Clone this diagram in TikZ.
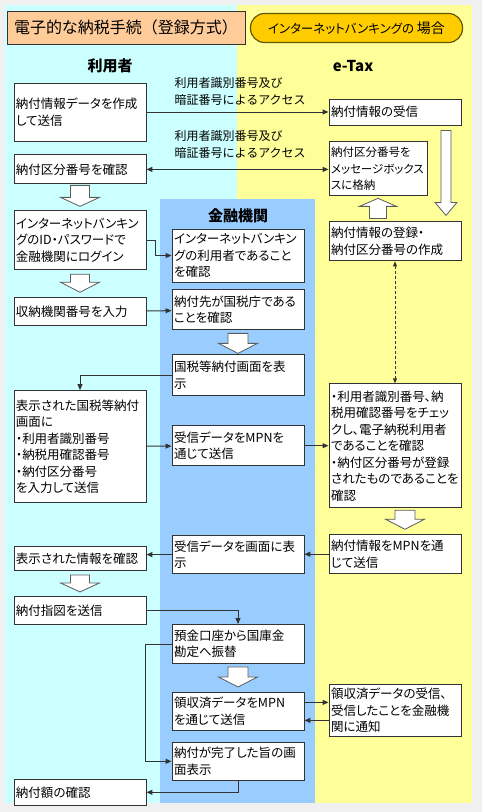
\documentclass[tikz,border=0pt]{standalone}
\usepackage{fontspec}
\setmainfont[RawFeature=+palt]{Noto Sans CJK JP}
\newfontfamily\fulljp{Noto Sans CJK JP}
\usetikzlibrary{arrows.meta, positioning, calc}
\definecolor{framegray}{HTML}{F0F0F0}
\definecolor{usercyan}{HTML}{CCFFFF}
\definecolor{banksky}{HTML}{99CCFF}
\definecolor{taxyellow}{HTML}{FFFF99}
\definecolor{titlepeach}{HTML}{FFCC99}
\definecolor{casegold}{HTML}{FFCC00}
\definecolor{caseedge}{HTML}{665500}
\definecolor{ink}{HTML}{333333}
\tikzstyle{box} = [rectangle, draw=ink, fill=white, line width=0.9pt,
  text width=128pt, align=left, inner xsep=2pt, inner ysep=2pt,
  font=\fontsize{12.5pt}{16.5pt}\selectfont]
\tikzstyle{titlebox} = [rectangle, draw=ink, fill=titlepeach, line width=0.9pt,
  minimum width=238pt, minimum height=33pt, font=\fulljp\fontsize{16pt}{18pt}\selectfont]
\tikzstyle{casebox} = [rectangle, draw=caseedge, fill=casegold, line width=1.2pt, rounded corners=14pt,
  minimum width=212pt, minimum height=29pt]
\tikzstyle{head} = [inner sep=0pt, font=\bfseries\fontsize{15pt}{18pt}\selectfont]
\tikzstyle{lbl} = [align=left, inner sep=0pt, font=\fulljp\fontsize{12pt}{17pt}\selectfont]
\tikzstyle{line} = [draw=ink, line width=1pt, -{Triangle[length=6pt,width=5pt]}]
\tikzstyle{both} = [draw=ink, line width=1pt, {Triangle[length=6pt,width=5pt]}-{Triangle[length=6pt,width=5pt]}]
\tikzstyle{dline} = [draw=ink, line width=0.8pt, dash pattern=on 3pt off 2pt,
  {Triangle[length=5pt,width=4pt]}-{Triangle[length=5pt,width=4pt]}]
\tikzstyle{hollow} = [draw=ink!80, fill=white, line width=0.8pt]
% hollow block arrow: from, to, half shaft, half head, head length
\newcommand{\fatarrow}[5]{%
  \path [hollow] let \p1=#1, \p2=#2, \n1={sign(\y2-\y1)} in
    (\x2-#3,\y1) -- (\x2-#3,\y2-\n1*#5) -- (\x2-#4,\y2-\n1*#5) -- (\x2,\y2)
    -- (\x2+#4,\y2-\n1*#5) -- (\x2+#3,\y2-\n1*#5) -- (\x2+#3,\y1) -- cycle;}

\begin{document}
\begin{tikzpicture}[x=1pt, y=-1pt]
    \useasboundingbox (0,0) rectangle (482,812);
    \fill [framegray] (0,0) rectangle (482,812);
    \fill [usercyan] (5,5) rectangle (237,803);
    \fill [taxyellow] (237,5) rectangle (472,803);
    \fill [banksky] (160,199) rectangle (315,803);

    \node [titlebox] (title) at (126,27.5) {電子的な納税手続（登録方式）};
    \node [casebox] (case) at (356.5,28) {\fontsize{12.5pt}{14pt}\selectfont インターネットバンキングの\ \fulljp\fontsize{14pt}{16pt}\selectfont 場合};

    \node [head] (userHead) at (110,66) {利用者};
    \node [head] (taxHead) at (353,66) {e-Tax};
    \node [head] (bankHead) at (238,216) {金融機関};

    % user column
    \node [box, minimum height=58pt] (makeData) at (80,112) {納付情報データを作成\\して送信};
    \node [box, minimum height=29pt, below=13pt of makeData] (checkNo) {納付区分番号を確認};
    \node [box, minimum height=59pt, below=26pt of checkNo] (login) {インターネットバンキン\\グのID・パスワードで\\金融機関にログイン};
    \node [box, minimum height=28pt, below=27pt of login] (enterNo) {収納機関番号を入力};
    \node [box, minimum height=112pt, below=64pt of enterNo] (enterIds) {表示された国税等納付\\画面に\\・利用者識別番号\\・納税用確認番号\\・納付区分番号\\を入力して送信};
    \node [box, minimum height=24pt, below=43pt of enterIds] (viewInfo) {表示された情報を確認};
    \node [box, minimum height=28pt, below=25pt of viewInfo] (order) {納付指図を送信};
    \node [box, minimum height=26pt, below=154pt of order] (amount) {納付額の確認};

    % bank column
    \node [box, minimum height=53pt] (isUser) at (238,255.5) {インターネットバンキン\\グの利用者であること\\を確認};
    \node [box, minimum height=40pt, below=7pt of isUser] (isNta) {納付先が国税庁である\\ことを確認};
    \node [box, minimum height=41pt, below=24pt of isNta] (showForm) {国税等納付画面を表\\示};
    \node [box, minimum height=40pt, below=29pt of showForm] (sendMpn) {受信データをMPNを\\通じて送信};
    \node [box, minimum height=38pt, below=69pt of sendMpn] (showData) {受信データを画面に表\\示};
    \node [box, minimum height=39pt, below=50pt of showData] (transfer) {預金口座から国庫金\\勘定へ振替};
    \node [box, minimum height=38pt, below=28pt of transfer] (sendReceipt) {領収済データをMPN\\を通じて送信};
    \node [box, minimum height=38pt, below=11pt of sendReceipt] (done) {納付が完了した旨の画\\面表示};

    % e-Tax column
    \node [box, minimum height=26pt] (receive) at (395,112) {納付情報の受信};
    \node [box, text width=94pt, minimum height=54pt, font=\fontsize{11.5pt}{16.5pt}\selectfont,
      below right=16pt and 0pt of receive.south west] (store) {納付区分番号を\\メッセージボックス\\スに格納};
    \node [box, minimum height=39pt, below=96pt of receive] (register) {納付情報の登録・\\納付区分番号の作成};
    \node [box, minimum height=124pt, below=122pt of register] (verify) {・利用者識別番号、納\\税用確認番号をチェッ\\クし、電子納税利用者\\であることを確認\\・納付区分番号が登録\\されたものであることを\\確認};
    \node [box, minimum height=39pt, below=26pt of verify] (sendInfo) {納付情報をMPNを通\\じて送信};
    \node [box, minimum height=52pt, below=110pt of sendInfo] (notify) {領収済データの受信、\\受信したことを金融機\\関に通知};

    \node [lbl, above right=6pt and 28pt of makeData.east] (access1) {利用者識別番号及び\\暗証番号によるアクセス};
    \node [lbl, above right=11pt and 28pt of checkNo.east] (access2) {利用者識別番号及び\\暗証番号によるアクセス};

    \path [line] (makeData) -- (receive);
    \path [both] (checkNo.east) -- (checkNo.east -| store.west);
    \path [line] (login.east) -- ++(9pt,0pt) |- (isUser.west);
    \path [line] (enterNo) -- (isNta);
    \path [line] (showForm.west) -| (enterIds.north);
    \path [line] (enterIds) -- (sendMpn);
    \path [line] (sendMpn.east) -- (sendMpn.east -| verify.west);
    \path [line] (sendInfo.west) -- (sendInfo.west -| showData.east);
    \path [line] (showData.west) -- (showData.west -| viewInfo.east);
    \path [line] (order.east) -| (transfer.north);
    \path [line] (transfer.west) -- ++(-26pt,0pt) |- (done.west);
    \path [line] ([yshift=9pt]sendReceipt.east) -- ([yshift=9pt]sendReceipt.east -| notify.west);
    \path [line] ([yshift=-9pt]sendReceipt.east -| notify.west) -- ([yshift=-9pt]sendReceipt.east);
    \path [line] (done.south) |- (amount.east);
    \path [dline] (register.south) -- (verify.north);

    \fatarrow{([yshift=-1pt]checkNo.south)}{([yshift=4pt]login.north)}{9.5pt}{19.5pt}{9pt}
    \fatarrow{([yshift=-4pt]login.south)}{([yshift=5pt]enterNo.north)}{9.5pt}{19.5pt}{10pt}
    \fatarrow{([yshift=-3pt]isNta.south)}{([yshift=1pt]showForm.north)}{10pt}{19.5pt}{10pt}
    \fatarrow{([yshift=-2pt]verify.south)}{([xshift=10pt,yshift=5pt]sendInfo.north)}{10pt}{19.5pt}{10pt}
    \fatarrow{([yshift=-4pt]viewInfo.south)}{([yshift=4pt]order.north)}{9.5pt}{19.5pt}{9pt}
    \fatarrow{([yshift=-3pt]transfer.south)}{([yshift=5pt]sendReceipt.north)}{10pt}{19.5pt}{10pt}
    \fatarrow{([yshift=-5pt]receive.south)}{([xshift=51pt,yshift=6pt]register.north)}{5pt}{11pt}{13pt}
    \fatarrow{([yshift=3pt]register.north)}{([yshift=-2pt]store.south)}{8.5pt}{18.5pt}{8pt}
\end{tikzpicture}
\end{document}
